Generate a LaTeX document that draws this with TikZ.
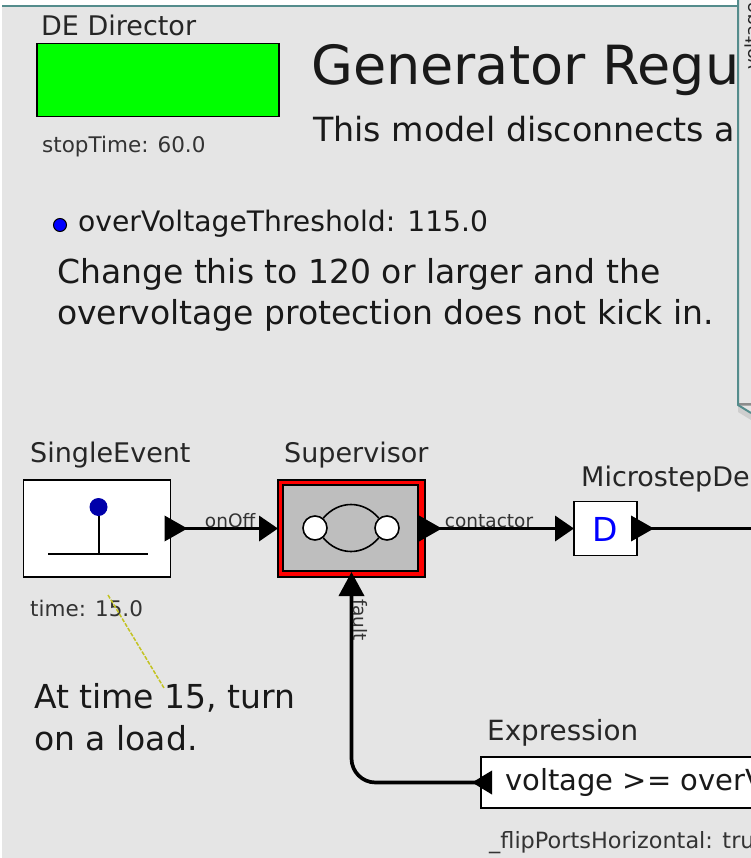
\documentclass[tikz,border=0pt]{standalone}
\usepackage{fontspec}
\setmainfont{DejaVu Sans}
\usepackage{tikz}
\usetikzlibrary{positioning,arrows.meta,calc}
\definecolor{canvasgray}{RGB}{229,229,229}
\definecolor{frameteal}{RGB}{84,140,140}
\definecolor{portblue}{RGB}{0,0,170}
\definecolor{supergray}{RGB}{190,190,190}
\definecolor{noteyellow}{RGB}{195,195,35}
\tikzset{
  wire/.style={line width=3.7pt, line cap=round, black},
  portwire/.style={wire, {Triangle[reversed, length=23pt, width=25pt]}-{Triangle[length=19pt, width=25pt]}, shorten <=-6pt},
  actor/.style={draw, line width=1.8pt, fill=white, inner sep=0pt, outer sep=0pt},
  statenode/.style={circle, draw, line width=1.6pt, fill=white, minimum size=24pt, inner sep=0pt},
  namelabel/.style={anchor=west, inner sep=0pt, text=black!85, font=\fontsize{27}{30}\selectfont},
  paramlabel/.style={anchor=west, inner sep=0pt, text=black!80, font=\fontsize{21.5}{24}\selectfont},
  notetext/.style={anchor=west, inner sep=0pt, text=black!90, font=\fontsize{33}{36}\selectfont},
  portlabel/.style={inner sep=0pt, text=black!80, font=\fontsize{18.5}{21}\selectfont}
}
\begin{document}
\begin{tikzpicture}[x=1pt, y=-1pt]
  \path[use as bounding box, clip] (0,0) rectangle (751,858);
  \fill[white] (0,0) rectangle (751,858);
  \fill[canvasgray] (2,6) rectangle (751,858);
  \draw[frameteal, line width=2pt] (2,6) -- (738,6);

  % director and title
  \node[actor, fill=green, minimum width=242pt, minimum height=73pt] (director) at (158,80) {};
  \node[namelabel] (directorname) at (41,25) {DE Director};
  \node[paramlabel] (stoptime) at (42,147) {stopTime: 60.0};
  \node[anchor=west, inner sep=0pt, text=black!90, font=\fontsize{54}{60}\selectfont] (title) at (311,70) {Generator Regu};
  \node[notetext, font=\fontsize{33.3}{36}\selectfont] (subtitle) at (313,129) {This model disconnects a};

  % threshold parameter
  \node[circle, draw, line width=1pt, fill=blue, minimum size=13pt, inner sep=0pt] (paramdot) at (60,225) {};
  \node[notetext, font=\fontsize{28.2}{31}\selectfont] (threshold) at (78,224) {overVoltageThreshold: 115.0};
  \node[notetext] (change1) at (57,274) {Change this to 120 or larger and the};
  \node[notetext] (change2) at (57,315) {overvoltage protection does not kick in.};

  % actors
  \node[namelabel] (eventname) at (30,455) {SingleEvent};
  \node[actor, minimum width=147pt, minimum height=97pt] (event) at (97,528.5) {};
  \coordinate (stemtop) at (98.5,507);
  \coordinate (stembase) at (98.5,554);
  \coordinate (baseleft) at (48,554);
  \coordinate (baseright) at (148,554);
  \draw[line width=2pt] (stemtop) -- (stembase);
  \draw[line width=2pt] (baseleft) -- (baseright);
  \node[circle, fill=portblue, minimum size=18pt, inner sep=0pt] (stemdot) at (stemtop) {};
  \node[paramlabel] (timeparam) at (30,608) {time: 15.0};

  \node[namelabel] (supername) at (284,455) {Supervisor};
  \node[actor, fill=red, minimum width=147pt, minimum height=97pt] (supervisor) at (351.5,528.5) {};
  \node[actor, fill=supergray, minimum width=135pt, minimum height=86pt] (superinner) at (350.5,528) {};
  \node[statenode] (statea) at (315,528) {};
  \node[statenode] (stateb) at (387,528) {};
  \draw[line width=1.6pt] (statea) to[out=50, in=130, looseness=1.1] (stateb);
  \draw[line width=1.6pt] (statea) to[out=-50, in=-130, looseness=1.1] (stateb);

  \node[namelabel] (delayname) at (581,479) {MicrostepDe};
  \node[actor, minimum width=63pt, minimum height=54pt] (delay) at (605.5,528.5) {};
  \node[text=blue, font=\fontsize{33}{36}\selectfont, inner sep=0pt] (delayd) at (605,529) {D};

  \node[namelabel, font=\fontsize{27.8}{30}\selectfont] (exprname) at (487,733) {Expression};
  \node[actor, minimum width=300pt, minimum height=51pt] (expr) at (631,782.5) {};
  \node[notetext, font=\fontsize{29}{32}\selectfont] (exprtext) at (505,782) {voltage >= overV};
  \node[paramlabel, font=\fontsize{22.4}{25}\selectfont] (flipparam) at (489,843) {\_flipPortsHorizontal: tru};

  % connections
  \coordinate (delayout) at (751,528.5);
  \draw[portwire] (event.east) -- (supervisor.west);
  \draw[portwire] (supervisor.east) -- (delay.west);
  \draw[wire, {Triangle[reversed, length=23pt, width=25pt]}-, shorten <=-6pt] (delay.east) -- (delayout);
  \draw[wire, rounded corners=24pt, {Triangle[reversed, length=20pt, width=23pt]}-{Triangle[length=24pt, width=25pt]}, shorten <=-11pt, shorten >=-5pt]
    (expr.west) -| (supervisor.south);
  \node[portlabel, above=1pt of $(event.east)!0.555!(supervisor.west)$] (onofflabel) {onOff};
  \node[portlabel, above=1pt of $(supervisor.east)!0.43!(delay.west)$] (contactorlabel) {contactor};
  \node[portlabel, rotate=-90] (faultlabel) at (360,620) {fault};

  % annotation
  \node[notetext] (note1) at (34,698) {At time 15, turn};
  \node[notetext] (note2) at (34,738) {on a load.};
  \coordinate (notestart) at (108,595);
  \coordinate (noteend) at (164,688);
  \draw[noteyellow, line width=1.5pt, dash pattern=on 4pt off 1.5pt] (notestart) -- (noteend);

  % window on top
  \coordinate (wintop) at (738,0);
  \coordinate (wincorner) at (738,405);
  \coordinate (winright) at (751,413);
  \fill[black!25, opacity=0.6] (738,405) -- (751,413) -- (751,420) -- (738,412) -- cycle;
  \fill[canvasgray] (wintop) -- (wincorner) -- (winright) -- (751,0) -- cycle;
  \node[rotate=90, anchor=west, inner sep=0pt, text=black!85, font=\fontsize{18}{21}\selectfont] (winlabel) at (754,70) {voltage};
  \fill[black!45] (738,403) rectangle (751,405.5);
  \fill[canvasgray] (738,405.5) -- (751,413) -- (751,405.5) -- cycle;
  \draw[frameteal, line width=2pt] (wintop) -- (wincorner) -- (winright);
\end{tikzpicture}
\end{document}
